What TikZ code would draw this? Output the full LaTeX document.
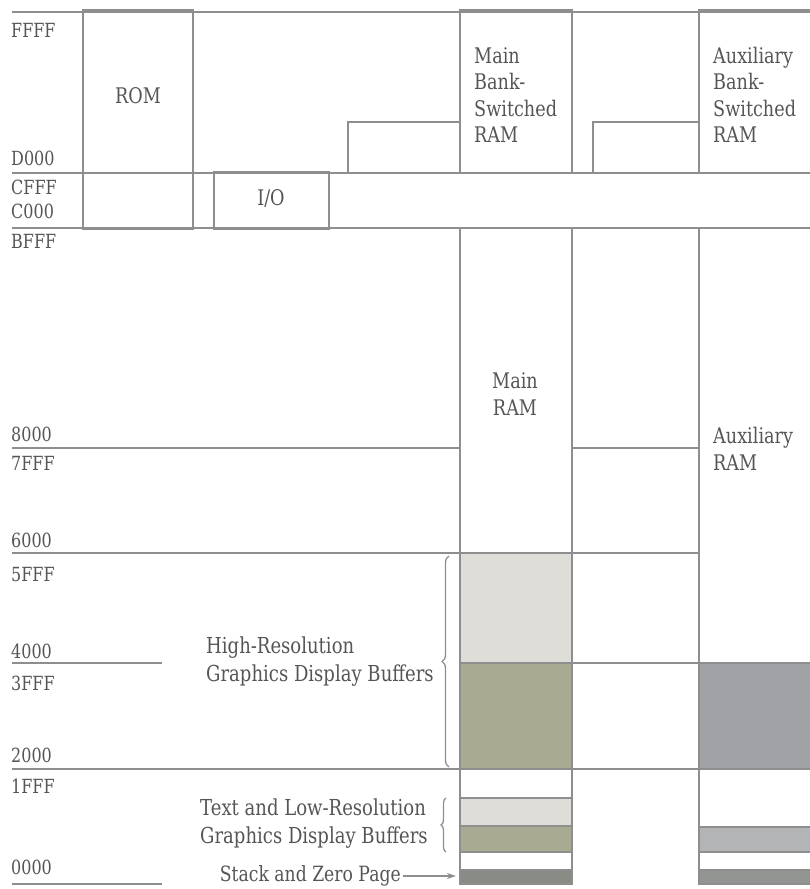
\documentclass[tikz,border=0pt]{standalone}
\usepackage{fontspec}
\setmainfont{DejaVu Serif}[FakeStretch=0.82]
\usetikzlibrary{decorations.pathreplacing,arrows.meta}
\definecolor{ln}{HTML}{8E8E8E}
\definecolor{txt}{HTML}{555555}
\definecolor{lightf}{HTML}{DEDDD8}
\definecolor{darkf}{HTML}{A9AA92}
\definecolor{auxf}{HTML}{A0A2A6}
\definecolor{stackf}{HTML}{888C84}
\begin{document}
\begin{tikzpicture}[x=1pt,y=-1pt,
  font=\fontsize{21.5}{26.5}\selectfont,
  every node/.style={text=txt, inner sep=0pt},
  hline/.style={draw=ln, line width=1.3pt},
  box/.style={draw=ln, line width=2.6pt},
  addr/.style={anchor=west, font=\fontsize{19.5}{24}\selectfont},
  annot/.style={anchor=west, align=left, font=\fontsize{22}{28}\selectfont},
  bracestyle/.style={draw=ln, line width=1.3pt, decorate, decoration={brace, amplitude=7pt}}]
\useasboundingbox (0,0) rectangle (810,889);
% fills
\fill[lightf] (460,553) rectangle (572,663);
\fill[darkf] (460,663) rectangle (572,769);
\fill[lightf] (460,798) rectangle (572,826);
\fill[darkf] (460,826) rectangle (572,852);
\fill[stackf] (460,870) rectangle (572,884);
\fill[auxf] (699,663) rectangle (812,769);
\fill[auxf!70!lightf] (699,827) rectangle (812,852);
\fill[stackf!60!auxf] (699,870) rectangle (812,884);
% thin lines
\draw[hline] (12,12) -- (812,12);
\draw[hline] (12,173) -- (812,173);
\draw[hline] (12,228) -- (812,228);
\draw[hline] (12,448) -- (460,448) (572,448) -- (699,448);
\draw[hline] (12,553) -- (699,553);
\draw[hline] (12,663) -- (162,663) (460,663) -- (812,663);
\draw[hline] (12,769) -- (812,769);
\draw[hline] (12,884) -- (162,884);
\draw[hline] (460,798) -- (572,798) (460,826) -- (572,826) (460,852) -- (572,852) (460,870) -- (572,870);
\draw[hline] (699,827) -- (812,827) (699,852) -- (812,852) (699,870) -- (812,870);
% boxes
\draw[box] (83,10) rectangle (193,229);
\draw[box] (214,172) rectangle (329,229);
\draw[box] (460,10) rectangle (572,173);
\draw[box] (460,122) -- (348,122) -- (348,173) -- (460,173);
\draw[box] (699,10) rectangle (812,173);
\draw[box] (699,122) -- (593,122) -- (593,173) -- (699,173);
\draw[box] (460,228) rectangle (572,884);
\draw[box] (699,228) rectangle (812,884);
% box labels
\node (rom) at (138,96) {ROM};
\node (io) at (271,199) {I/O};
\node[anchor=west, align=left] (mbank) at (474,95) {Main\\Bank-\\Switched\\RAM};
\node[anchor=west, align=left] (abank) at (713,95) {Auxiliary\\Bank-\\Switched\\RAM};
\node[align=center] (mram) at (515,394) {Main\\RAM};
\node[anchor=west, align=left] (aram) at (713,449) {Auxiliary\\RAM};
% address labels
\node[addr] (aFFFF) at (11,30) {FFFF};
\node[addr] (aD000) at (11,158) {D000};
\node[addr] (aCFFF) at (11,187) {CFFF};
\node[addr] (aC000) at (11,211) {C000};
\node[addr] (aBFFF) at (11,241) {BFFF};
\node[addr] (a8000) at (11,434) {8000};
\node[addr] (a7FFF) at (11,463) {7FFF};
\node[addr] (a6000) at (11,540) {6000};
\node[addr] (a5FFF) at (11,575) {5FFF};
\node[addr] (a4000) at (11,651) {4000};
\node[addr] (a3FFF) at (11,683) {3FFF};
\node[addr] (a2000) at (11,755) {2000};
\node[addr] (a1FFF) at (11,786) {1FFF};
\node[addr] (a0000) at (11,867) {0000};
% annotations
\node[annot] (hires) at (206,662) {High-Resolution\\Graphics Display Buffers};
\draw[bracestyle] (449,767) -- (449,556);
\node[annot] (lores) at (200,824) {Text and Low-Resolution\\Graphics Display Buffers};
\draw[bracestyle, decoration={brace, amplitude=5pt}] (446,852) -- (446,798);
\node[anchor=east, font=\fontsize{21}{26}\selectfont] (stack) at (401,876) {Stack and Zero Page};
\coordinate (stacktip) at (456,876);
\draw[draw=ln, line width=1.3pt, -{Stealth[length=9pt,width=6pt]}] (stack.east) ++(2pt,0pt) -- (stacktip);
\end{tikzpicture}
\end{document}
